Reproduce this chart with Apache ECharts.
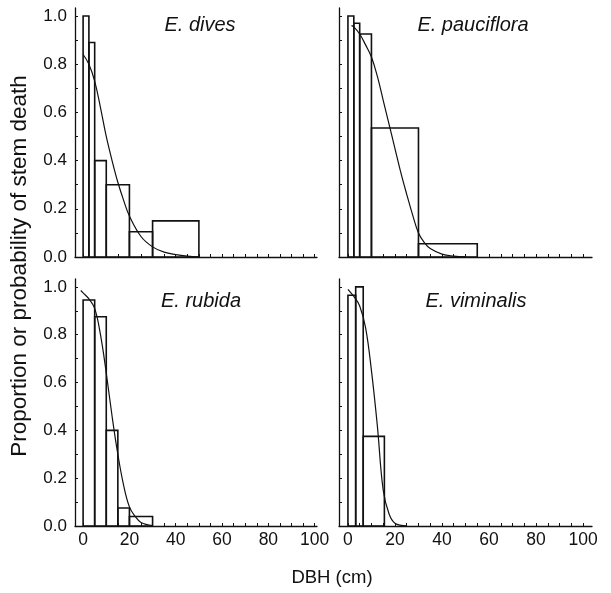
<!DOCTYPE html>
<html>
<head>
<meta charset="utf-8">
<script src="https://cdn.jsdelivr.net/npm/echarts@6/dist/echarts.min.js"></script>
<style>
  html, body { margin: 0; padding: 0; background: #fff; }
  #chart { width: 611px; height: 593px; }
</style>
</head>
<body>
<div id="chart"></div>
<script>
// bin edges (cm) and proportion of stems dead in each bin
const divesEdges = [0, 2.5, 5, 10, 20, 30, 50]
const divesProp = [1.0, 0.89, 0.40, 0.30, 0.105, 0.15]
const paucEdges = [0, 2.5, 5, 10, 30, 55]
const paucProp = [1.0, 0.97, 0.925, 0.535, 0.055]
const rubidaEdges = [0, 5, 10, 15, 20, 30]
const rubidaProp = [0.945, 0.875, 0.40, 0.075, 0.04]
const vimEdges = [0, 3.3, 6.5, 15.5]
const vimProp = [0.965, 1.0, 0.375]

// fitted probability curves
const divesCurveX = [0, 2.5, 5, 7.5, 10, 12.5, 15, 17.5, 20, 25, 30, 35, 40, 45, 50]
const divesCurveY = [0.84, 0.80, 0.73, 0.62, 0.50, 0.40, 0.31, 0.235, 0.17, 0.085, 0.042, 0.02, 0.01, 0.004, 0.001]
const paucCurveX = [1.5, 2.5, 5, 7.5, 10, 12.5, 15, 17.5, 20, 22.5, 25, 27.5, 30, 32.5, 35, 40, 45, 50]
const paucCurveY = [0.96, 0.955, 0.925, 0.88, 0.83, 0.75, 0.65, 0.55, 0.45, 0.35, 0.26, 0.175, 0.10, 0.06, 0.035, 0.012, 0.004, 0.001]
const rubidaCurveX = [-1, 0, 2.5, 5, 7.5, 10, 12.5, 15, 17.5, 20, 22.5, 25, 30]
const rubidaCurveY = [0.985, 0.975, 0.95, 0.91, 0.80, 0.64, 0.46, 0.30, 0.17, 0.08, 0.04, 0.015, 0.002]
const vimCurveX = [0, 2.5, 5, 7.5, 10, 12.5, 15, 17.5, 20, 25]
const vimCurveY = [0.99, 0.96, 0.92, 0.83, 0.65, 0.42, 0.15, 0.05, 0.012, 0.001]

const species = ['E. dives', 'E. pauciflora', 'E. rubida', 'E. viminalis']
const xLabels = [0, 20, 40, 60, 80, 100]
const xTicks = [0, 5, 10, 15, 20, 25, 30, 35, 40, 45, 50, 55, 60, 65, 70, 75, 80, 85, 90, 95, 100]
const yLabels = [0, 0.2, 0.4, 0.6, 0.8, 1.0]
const yTicks = [0, 0.1, 0.2, 0.3, 0.4, 0.5, 0.6, 0.7, 0.8, 0.9, 1.0]

const font = 'Liberation Sans, Arial, Helvetica, sans-serif'
const ink = '#111'

function bins(edges, prop) {
  let out = []
  for (let i = 0; i < prop.length; i++) {
    out.push([edges[i], edges[i + 1], prop[i]])
  }
  return out
}

function pairs(xs, ys) {
  return xs.map((x, i) => [x, ys[i]])
}

function renderBin(params, api) {
  let p0 = api.coord([api.value(0), 0])
  let p1 = api.coord([api.value(1), api.value(2)])
  return {
    type: 'rect',
    shape: { x: p0[0], y: p1[1], width: p1[0] - p0[0], height: p0[1] - p1[1] },
    style: { fill: 'none', stroke: ink, lineWidth: 1.6 },
  }
}

let grids = [
  { left: 75, top: 8, width: 242, height: 249 },
  { left: 339, top: 8, width: 253, height: 249 },
  { left: 75, top: 279, width: 242, height: 247 },
  { left: 339, top: 279, width: 253, height: 247 },
]

let xAxes = grids.map((g, i) => {
  let right = i % 2 == 1
  return {
    type: 'value',
    gridIndex: i,
    min: right ? -3.8 : -3.5,
    max: right ? 103.8 : 101,
    splitLine: { show: false },
    axisLine: { onZero: false, lineStyle: { color: ink, width: 1.3 } },
    axisTick: { inside: true, length: 3, customValues: xTicks, lineStyle: { color: ink } },
    axisLabel: {
      show: i >= 2,
      customValues: xLabels,
      margin: 5,
      color: ink,
      fontSize: 17.5,
      fontFamily: font,
    },
  }
})

let yAxes = grids.map((g, i) => {
  return {
    type: 'value',
    gridIndex: i,
    min: 0,
    max: 1.033,
    splitLine: { show: false },
    axisLine: { onZero: false, lineStyle: { color: ink, width: 1.3 } },
    axisTick: { inside: true, length: 3, customValues: yTicks, lineStyle: { color: ink } },
    axisLabel: {
      show: i % 2 == 0,
      customValues: yLabels,
      margin: 8,
      color: ink,
      fontSize: 17,
      fontFamily: font,
      formatter: (v) => v.toFixed(1),
    },
  }
})

let allBins = [
  bins(divesEdges, divesProp),
  bins(paucEdges, paucProp),
  bins(rubidaEdges, rubidaProp),
  bins(vimEdges, vimProp),
]
let allCurves = [
  pairs(divesCurveX, divesCurveY),
  pairs(paucCurveX, paucCurveY),
  pairs(rubidaCurveX, rubidaCurveY),
  pairs(vimCurveX, vimCurveY),
]

let series = []
for (let i = 0; i < 4; i++) {
  series.push({
    type: 'custom',
    xAxisIndex: i,
    yAxisIndex: i,
    renderItem: renderBin,
    encode: { x: [0, 1], y: 2 },
    data: allBins[i],
    silent: true,
  })
  series.push({
    type: 'line',
    xAxisIndex: i,
    yAxisIndex: i,
    smooth: 0.4,
    showSymbol: false,
    lineStyle: { color: ink, width: 1.2 },
    data: allCurves[i],
    silent: true,
  })
}

// species names and axis titles
let labelPos = [[200, 25], [473, 25], [201, 301], [476, 301]]
let graphics = species.map((name, i) => ({
  type: 'text',
  x: labelPos[i][0],
  y: labelPos[i][1],
  style: {
    text: name,
    font: 'italic 20px ' + font,
    fill: ink,
    align: 'center',
    verticalAlign: 'middle',
  },
}))
graphics.push({
  type: 'text',
  x: 332,
  y: 578,
  style: { text: 'DBH (cm)', font: '18.5px ' + font, fill: ink, align: 'center', verticalAlign: 'middle' },
})
graphics.push({
  type: 'text',
  x: 20,
  y: 266,
  rotation: Math.PI / 2,
  style: {
    text: 'Proportion or probability of stem death',
    font: '22.5px ' + font,
    fill: ink,
    align: 'center',
    verticalAlign: 'middle',
  },
})

let chart = echarts.init(document.getElementById('chart'))
chart.setOption({
  animation: false,
  backgroundColor: '#fff',
  grid: grids,
  xAxis: xAxes,
  yAxis: yAxes,
  series: series,
  graphic: graphics,
})
</script>
</body>
</html>
